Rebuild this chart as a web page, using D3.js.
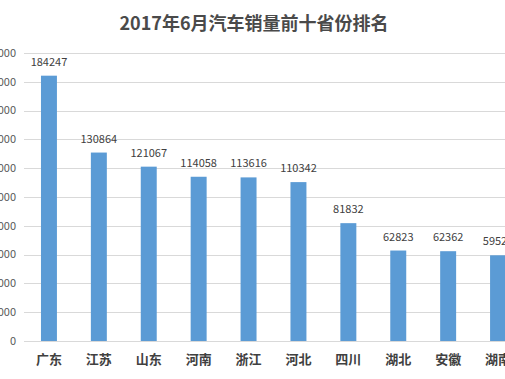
<!DOCTYPE html>
<html>
<head>
<meta charset="utf-8">
<script src="https://cdn.jsdelivr.net/npm/d3@7"></script>
<style>
  html, body { margin: 0; padding: 0; background: #fff; overflow: hidden; }
  svg { display: block; font-family: "Noto Sans CJK SC", "Noto Sans", sans-serif; }
</style>
</head>
<body>
<div id="chart"></div>
<script>
// data
const provinces = ["广东", "江苏", "山东", "河南", "浙江", "河北", "四川", "湖北", "安徽", "湖南"];
const sales = [184247, 130864, 121067, 114058, 113616, 110342, 81832, 62823, 62362, 59520];
const yTicks = [0, 20000, 40000, 60000, 80000, 100000, 120000, 140000, 160000, 180000, 200000];
const title = "2017年6月汽车销量前十省份排名";

const W = 505, H = 379;

const svg = d3.select("#chart").append("svg")
    .attr("width", W).attr("height", H);

// the plot runs past the right edge, like the cropped original
var x = d3.scaleBand().domain(provinces).range([24, 523])
    .paddingInner(0.68).paddingOuter(0.34);
var y = d3.scaleLinear().domain([0, 200000]).range([341, 53]);

// gridlines
svg.append("g")
    .selectAll("line")
    .data(yTicks)
    .enter().append("line")
    .attr("x1", 24).attr("x2", 523)
    .attr("y1", d => Math.round(y(d)) + 0.5)
    .attr("y2", d => Math.round(y(d)) + 0.5)
    .attr("stroke", "#d9d9d9")
    .attr("stroke-width", 1);

// y tick labels (mostly cut off on the left)
svg.append("g")
    .selectAll("text")
    .data(yTicks)
    .enter().append("text")
    .attr("x", 16)
    .attr("y", d => y(d))
    .attr("dy", "0.35em")
    .attr("text-anchor", "end")
    .attr("font-size", 11)
    .attr("fill", "#595959")
    .text(d => d);

// bars
svg.append("g")
    .selectAll("rect")
    .data(provinces)
    .enter().append("rect")
    .attr("x", d => x(d))
    .attr("width", x.bandwidth())
    .attr("y", (d, i) => y(sales[i]))
    .attr("height", (d, i) => y(0) - y(sales[i]))
    .attr("fill", "#5b9bd5");

// value labels
svg.append("g")
    .selectAll("text")
    .data(provinces)
    .enter().append("text")
    .attr("x", d => x(d) + x.bandwidth() / 2)
    .attr("y", (d, i) => y(sales[i]) - 10)
    .attr("text-anchor", "middle")
    .attr("font-size", 11)
    .attr("fill", "#404040")
    .text((d, i) => sales[i]);

// category labels
svg.append("g")
    .selectAll("text")
    .data(provinces)
    .enter().append("text")
    .attr("x", d => x(d) + x.bandwidth() / 2)
    .attr("y", 364)
    .attr("text-anchor", "middle")
    .attr("font-size", 13)
    .attr("font-weight", "bold")
    .attr("fill", "#404040")
    .text(d => d);

// title
svg.append("text")
    .attr("x", 254)
    .attr("y", 30)
    .attr("text-anchor", "middle")
    .attr("font-size", 18)
    .attr("font-weight", "bold")
    .attr("fill", "#4a4a4a")
    .text(title);
</script>
</body>
</html>
